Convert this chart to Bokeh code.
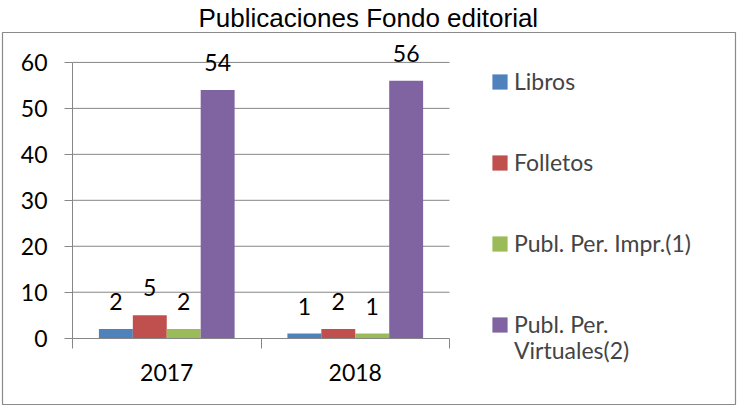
from bokeh.plotting import figure
from bokeh.models import (ColumnDataSource, FixedTicker, Legend, LegendItem, LabelSet, Range1d)
from bokeh.core.properties import value
from bokeh.transform import dodge
from bokeh.embed import file_html
from bokeh.resources import INLINE

# ---- data ----
years = ["2017", "2018"]
series = ["Libros", "Folletos", "Publ. Per. Impr.(1)", "Publ. Per.\nVirtuales(2)"]
libros = [2, 1]
folletos = [5, 2]
impresas = [2, 1]
virtuales = [54, 56]
y_ticks = [0, 10, 20, 30, 40, 50, 60]

colors = ["#4F81BD", "#C0504D", "#9BBB59", "#8064A2"]
offsets = [-0.27, -0.09, 0.09, 0.27]
values = [libros, folletos, impresas, virtuales]

ncat = len(years)
xpos = [i + 0.5 for i in range(ncat)]
ymax = y_ticks[-1]

W, H = 737, 406
# frame = chart border box; plot area drawn inside it
p = figure(width=W, height=H, output_backend="svg", toolbar_location=None,
           x_range=Range1d(-0.3714, ncat + 1.5172),
           y_range=Range1d(-14.43, ymax + 6.51),
           min_border_left=2, min_border_right=2, min_border_top=31,
           min_border_bottom=2)
p.outline_line_color = "#8a8a8a"
p.outline_line_width = 1.2
p.background_fill_color = "white"
p.border_fill_color = "white"

p.title.text = "Publicaciones Fondo editorial"
p.title.align = "left"
p.title.offset = 196
p.title.text_font = "Liberation Sans"
p.title.text_font_size = "26px"
p.title.text_font_style = "normal"
p.title.text_color = "black"
p.title.standoff = 0

FONT = "Lato"
gray = "#868686"

# gridlines limited to the plot area
grid_src = ColumnDataSource(dict(y=y_ticks[1:], x0=[0] * (len(y_ticks) - 1),
                                 x1=[ncat] * (len(y_ticks) - 1)))
p.segment(x0="x0", x1="x1", y0="y", y1="y", source=grid_src,
          line_color=gray, line_width=1)
p.xgrid.visible = False
p.ygrid.visible = False

renderers = []
for name, vals, col, off in zip(series, values, colors, offsets):
    src = ColumnDataSource(dict(x=xpos, y=vals, lab=[str(v) for v in vals]))
    r = p.vbar(x=dodge("x", off), top="y", width=0.18, source=src,
               fill_color=col, line_color=None)
    renderers.append(r)
    ls = LabelSet(x=dodge("x", off), y="y", text="lab", source=src,
                  text_align="center", text_baseline="alphabetic", y_offset=19,
                  text_font=value(FONT), text_font_size=value("23px"),
                  text_color="black")
    p.add_layout(ls)

# axes drawn inside the frame
p.yaxis.fixed_location = 0
p.yaxis.bounds = (0, ymax)
p.yaxis.ticker = FixedTicker(ticks=y_ticks)
p.yaxis.axis_line_color = gray
p.yaxis.major_tick_line_color = gray
p.yaxis.major_tick_out = 8
p.yaxis.major_tick_in = 0
p.yaxis.minor_tick_line_color = None
p.yaxis.major_label_standoff = 17
p.yaxis.major_label_text_font = FONT
p.yaxis.major_label_text_font_size = "23px"
p.yaxis.major_label_text_color = "black"

p.xaxis.fixed_location = 0
p.xaxis.bounds = (0, ncat)
p.xaxis.ticker = FixedTicker(ticks=xpos, minor_ticks=list(range(ncat + 1)))
p.xaxis.major_label_overrides = {x: y for x, y in zip(xpos, years)}
p.xaxis.axis_line_color = gray
p.xaxis.major_tick_line_color = None
p.xaxis.major_tick_out = 0
p.xaxis.major_tick_in = 0
p.xaxis.minor_tick_line_color = gray
p.xaxis.minor_tick_out = 10
p.xaxis.minor_tick_in = 0
p.xaxis.major_label_standoff = 16
p.xaxis.major_label_text_font = FONT
p.xaxis.major_label_text_font_size = "23px"
p.xaxis.major_label_text_color = "black"

# legend: the square sits beside the first line of each label (Excel style);
# continuation lines are shown in a second, glyph-less legend below
legend_style = dict(orientation="vertical", glyph_width=19, glyph_height=19,
                    label_height=27, label_standoff=5, spacing=53, padding=0,
                    margin=0, label_text_font=FONT, label_text_font_size="23px",
                    border_line_color=None, background_fill_alpha=0)
first_lines = [s.split("\n")[0] for s in series]
rest_lines = [line for s in series for line in s.split("\n")[1:]]
items = [LegendItem(label=s, renderers=[r]) for s, r in zip(first_lines, renderers)]
legend = Legend(items=items, location=(488, 66), **legend_style)
p.add_layout(legend)

blank = p.vbar(x=[], top=[], width=0.1, fill_alpha=0, line_alpha=0)
legend2 = Legend(items=[LegendItem(label=t, renderers=[blank]) for t in rest_lines],
                 location=(488, 40), **legend_style)
p.add_layout(legend2)

open("out.html", "w").write(file_html(p, INLINE))
